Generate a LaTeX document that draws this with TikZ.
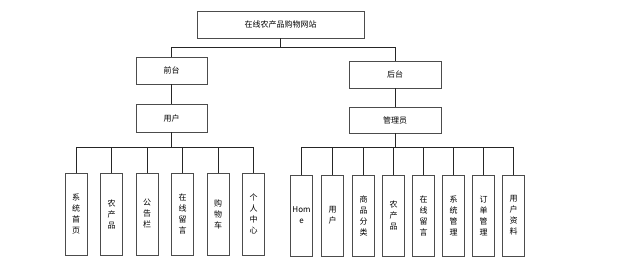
\documentclass[tikz,border=0pt]{standalone}
\usepackage{fontspec}
\newfontfamily\cjk{Noto Sans CJK SC}
\usepackage{tikz}

\tikzset{
  box/.style={draw=black!70,line width=0.9pt,fill=white,inner sep=0pt,
    font=\cjk\fontsize{8}{11}\selectfont,align=center},
  leafbox/.style={box,minimum width=22,minimum height=82},
  link/.style={black!85,line width=0.6pt}
}

\begin{document}
\begin{tikzpicture}[x=1pt,y=-1pt]
        \useasboundingbox (0,0) rectangle (640,273);
        \node[box,minimum width=167,minimum height=27] (site) at (280.5,24.5) {在线农产品购物网站};
        \node[box,minimum width=71,minimum height=27] (front) at (171.5,70.5) {前台};
        \node[box,minimum width=71,minimum height=28] (user) at (171.5,118) {用户};
        \node[box,minimum width=92,minimum height=27] (back) at (395,74.5) {后台};
        \node[box,minimum width=92,minimum height=26] (admin) at (395,120) {管理员};
        % front leaves
        \foreach \x/\t [count=\i] in {76/系\\统\\首\\页,111.5/农\\产\\品,147/公\\告\\栏,182.5/在\\线\\留\\言,218/购\\物\\车,253.5/个\\人\\中\\心}{
            \node[leafbox] (f\i) at (\x,214) {\t};
            \draw[link] (user.south) -- ++(0,15) -| (f\i.north);
        }
        % back leaves
        \foreach \x/\t [count=\i] in {301.5/Hom\\e,332.5/用\\户,363.5/商\\品\\分\\类,393.5/农\\产\\品,423.5/在\\线\\留\\言,453.5/系\\统\\管\\理,483.5/订\\单\\管\\理,513.5/用\\户\\资\\料}{
            \node[leafbox,minimum height=81] (b\i) at (\x,215.5) {\t};
            \draw[link] (admin.south) -- ++(0,14) -| (b\i.north);
        }
        \draw[link] (site.south) -- ++(0,9) -| (front.north);
        \draw[link] (site.south) -- ++(0,9) -| (back.north);
        \draw[link] (front.south) -- (user.north);
        \draw[link] (back.south) -- (admin.north);
    \end{tikzpicture}
\end{document}
